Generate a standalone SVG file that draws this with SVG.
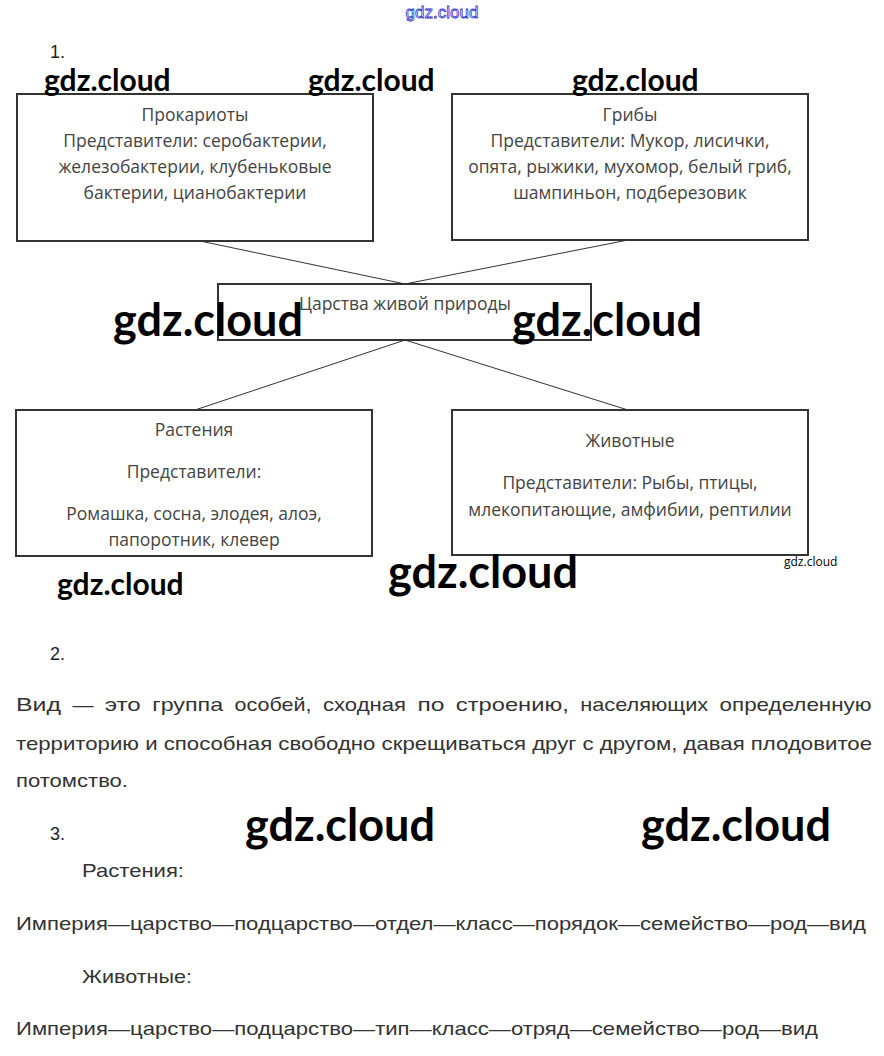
<svg xmlns="http://www.w3.org/2000/svg" width="884" height="1056" viewBox="0 0 884 1056">
<style>
.box{fill:#fff;stroke:#333;stroke-width:2}
.bt{font-family:"Open Sans","Noto Sans",sans-serif;font-size:17.5px;fill:#444;text-anchor:middle}
.wm{font-family:Lato,"Liberation Sans",sans-serif;font-weight:bold;fill:#000}
.num{font-family:"Liberation Sans",Arial,sans-serif;font-size:18px;fill:#222}
.p{font-family:"Liberation Sans",Arial,sans-serif;font-size:19px;fill:#333}
.ln{stroke:#333;stroke-width:1;fill:none}
</style>
<rect width="884" height="1056" fill="#fff"/>
<text x="442" y="18" text-anchor="middle" style="font-family:'Liberation Sans Narrow','Liberation Sans',sans-serif;font-size:17px;fill:#fff;stroke:#3333cc;stroke-width:0.8">gdz.cloud</text>
<text class="num" x="50" y="58">1.</text>
<g id="connectors">
<line class="ln" x1="200" y1="241" x2="405" y2="284"/>
<line class="ln" x1="628" y1="240" x2="405" y2="284"/>
<line class="ln" x1="405" y1="340" x2="195" y2="410"/>
<line class="ln" x1="405" y1="340" x2="628" y2="410"/>
</g>
<g id="prokaryotes">
<rect class="box" x="17" y="94" width="356" height="147"/>
<text class="bt" x="195" y="121">Прокариоты</text>
<text class="bt" x="195" y="147">Представители: серобактерии,</text>
<text class="bt" x="195" y="173">железобактерии, клубеньковые</text>
<text class="bt" x="195" y="199">бактерии, цианобактерии</text>
</g>
<g id="fungi">
<rect class="box" x="452" y="94" width="356" height="146"/>
<text class="bt" x="630" y="121">Грибы</text>
<text class="bt" x="630" y="147">Представители: Мукор, лисички,</text>
<text class="bt" x="630" y="173">опята, рыжики, мухомор, белый гриб,</text>
<text class="bt" x="630" y="199">шампиньон, подберезовик</text>
</g>
<g id="kingdoms">
<rect class="box" x="218" y="284" width="373" height="56"/>
<text class="bt" x="405" y="310">Царства живой природы</text>
</g>
<g id="plants">
<rect class="box" x="16" y="410" width="356" height="146"/>
<text class="bt" x="194" y="436">Растения</text>
<text class="bt" x="194" y="478">Представители:</text>
<text class="bt" x="194" y="520">Ромашка, сосна, элодея, алоэ,</text>
<text class="bt" x="194" y="546">папоротник, клевер</text>
</g>
<g id="animals">
<rect class="box" x="452" y="410" width="356" height="145"/>
<text class="bt" x="630" y="447">Животные</text>
<text class="bt" x="630" y="489">Представители: Рыбы, птицы,</text>
<text class="bt" x="630" y="516">млекопитающие, амфибии, рептилии</text>
</g>
<text class="wm" x="44" y="91" font-size="30">gdz.cloud</text>
<text class="wm" x="308" y="91" font-size="30">gdz.cloud</text>
<text class="wm" x="572" y="91" font-size="30">gdz.cloud</text>
<text class="wm" x="113" y="336" font-size="45">gdz.cloud</text>
<text class="wm" x="512" y="336" font-size="45">gdz.cloud</text>
<text class="wm" x="57" y="595" font-size="30">gdz.cloud</text>
<text class="wm" x="388" y="588" font-size="45">gdz.cloud</text>
<text x="784" y="566" style="font-family:'Open Sans','Liberation Sans',sans-serif;font-size:12px;fill:#000">gdz.cloud</text>
<text class="num" x="50" y="660">2.</text>
<text class="p" y="711"><tspan x="16" textLength="45" lengthAdjust="spacingAndGlyphs">Вид</tspan><tspan x="72.4" textLength="21" lengthAdjust="spacingAndGlyphs">—</tspan><tspan x="104.8" textLength="36" lengthAdjust="spacingAndGlyphs">это</tspan><tspan x="152.2" textLength="71" lengthAdjust="spacingAndGlyphs">группа</tspan><tspan x="234.6" textLength="77" lengthAdjust="spacingAndGlyphs">особей,</tspan><tspan x="323" textLength="83" lengthAdjust="spacingAndGlyphs">сходная</tspan><tspan x="417.4" textLength="27" lengthAdjust="spacingAndGlyphs">по</tspan><tspan x="455.8" textLength="113" lengthAdjust="spacingAndGlyphs">строению,</tspan><tspan x="580.2" textLength="128" lengthAdjust="spacingAndGlyphs">населяющих</tspan><tspan x="719.6" textLength="152" lengthAdjust="spacingAndGlyphs">определенную</tspan></text>
<text class="p" x="16" y="750" textLength="856" lengthAdjust="spacingAndGlyphs">территорию и способная свободно скрещиваться друг с другом, давая плодовитое</text>
<text class="p" x="16" y="787" textLength="112" lengthAdjust="spacingAndGlyphs">потомство.</text>
<text class="num" x="50" y="840">3.</text>
<text class="wm" x="245" y="841" font-size="45">gdz.cloud</text>
<text class="wm" x="641" y="841" font-size="45">gdz.cloud</text>
<text class="p" x="82" y="877" textLength="102" lengthAdjust="spacingAndGlyphs">Растения:</text>
<text class="p" x="16" y="930" textLength="850" lengthAdjust="spacingAndGlyphs">Империя—царство—подцарство—отдел—класс—порядок—семейство—род—вид</text>
<text class="p" x="82" y="983" textLength="110" lengthAdjust="spacingAndGlyphs">Животные:</text>
<text class="p" x="16" y="1035" textLength="802" lengthAdjust="spacingAndGlyphs">Империя—царство—подцарство—тип—класс—отряд—семейство—род—вид</text>
</svg>
